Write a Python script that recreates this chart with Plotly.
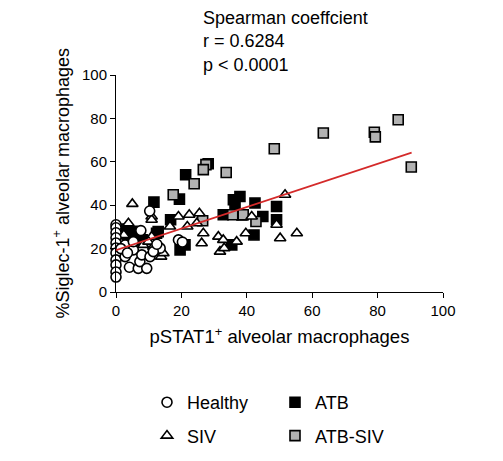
import plotly.graph_objects as go

# ---- data ----
healthy_x = [0, 0, 0, 0, 0, 0, 0, 0, 0, 0, 0, 10.3, 7.6, 2.8, 5.3, 2.8, 4.1, 6.8, 7.3, 9.4,
             7.9, 10.4, 13.5, 11.4, 19.1, 5.3, 1.5, 3.5, 12.5, 20.3]
healthy_y = [31, 29.6, 27.3, 25, 22.6, 20.3, 18, 14.8, 12.5, 9.2, 6.9, 37.3, 28.3, 21.7, 19.4, 16.3, 11.4, 10.9, 14, 10.9,
             17.1, 16.3, 20.2, 18.6, 24, 23.2, 20, 18, 22, 23]

atb_x = [21.3, 28.2, 19.4, 11.6, 16.7, 12.9, 19.6, 21.1, 32.8, 35.9, 37.9, 36.4, 42.5, 44.9, 42.2,
         35.4, 49.1, 49.1, 1, 2, 3, 4, 5, 6, 7, 8, 3, 5, 12.4, 38.5]
atb_y = [54, 59.1, 42.8, 41.4, 33.3, 27.8, 19.4, 21.7, 35.6, 42.5, 44, 40.2, 41, 34.8, 26.3,
         21.7, 39.4, 33.3, 28, 27, 25, 26, 28, 26, 25, 24, 29, 24, 27.1, 35.5]

siv_x = [5, 10.9, 10.9, 19.1, 22.4, 25.5, 16.5, 21.8, 24.7, 26.7, 26.2, 31.3, 32.8, 31.8, 33.1, 36.9,
         39.7, 41.5, 49.1, 50.2, 13.8, 10.9, 8.3, 11.4, 3.8, 2.4, 1.7, 51.7, 55.3, 9.9, 11.9, 14.5]
siv_y = [40.6, 34.8, 33.3, 34.8, 35.6, 36.3, 30.2, 30.2, 31.7, 27.1, 22.5, 25.5, 24, 18.6, 20.2, 23.2,
         27.1, 34.8, 31, 24.8, 16.3, 25.5, 21.7, 20.9, 31.7, 26.3, 22.6, 44.8, 27.1, 23.2, 19.4, 17.9]

atbsiv_x = [86.3, 63.4, 79, 79.3, 90.3, 48.4, 42.8, 27.5, 26.7, 33.7, 23.9, 17.5, 26.5, 35.7, 38.9]
atbsiv_y = [79.4, 73.3, 73.6, 71.5, 57.6, 66, 32.5, 58.7, 56.4, 55.1, 49.9, 44.8, 32.8, 35.6, 35.6]

fit_slope = 0.497
fit_intercept = 19.3
fit_x = [0, 90.4]
fit_y = [fit_intercept + fit_slope * v for v in fit_x]

x_ticks = [0, 20, 40, 60, 80, 100]
y_ticks = [0, 20, 40, 60, 80, 100]

FONT = "Liberation Sans, Arial, sans-serif"
MS = 10
LW = 1.6

fig = go.Figure()

fig.add_trace(go.Scatter(x=atb_x, y=atb_y, mode="markers", name="ATB",
                         marker=dict(symbol="square", size=MS, color="black",
                                     line=dict(color="black", width=LW)),
                         cliponaxis=False, legend="legend2", legendrank=1, legendgroup="a"))
fig.add_trace(go.Scatter(x=atbsiv_x, y=atbsiv_y, mode="markers", name="ATB-SIV",
                         marker=dict(symbol="square", size=MS, color="#b2b2b2",
                                     line=dict(color="black", width=LW)),
                         cliponaxis=False, legend="legend2", legendrank=2, legendgroup="b"))
fig.add_trace(go.Scatter(x=siv_x, y=siv_y, mode="markers", name="SIV",
                         marker=dict(symbol="triangle-up", size=MS, color="white",
                                     line=dict(color="black", width=LW)),
                         cliponaxis=False, legend="legend", legendrank=2, legendgroup="c"))
fig.add_trace(go.Scatter(x=healthy_x, y=healthy_y, mode="markers", name="Healthy",
                         marker=dict(symbol="circle", size=MS, color="white",
                                     line=dict(color="black", width=LW)),
                         cliponaxis=False, legend="legend", legendrank=1, legendgroup="d"))
fig.add_trace(go.Scatter(x=fit_x, y=fit_y, mode="lines", showlegend=False,
                         line=dict(color="#d42a2a", width=1.6), cliponaxis=False))

axis_common = dict(range=[0, 100], showgrid=False, zeroline=False, showline=True,
                   linecolor="black", linewidth=1, ticks="outside", ticklen=5,
                   tickcolor="black", tickwidth=1, tickfont=dict(family=FONT, size=15, color="black"))

fig.update_xaxes(**axis_common, tickvals=x_ticks,
                 title=dict(text="pSTAT1<sup>+</sup> alveolar macrophages",
                            font=dict(family=FONT, size=18.5, color="black"), standoff=12))
fig.update_yaxes(**axis_common, tickvals=y_ticks)

leg_common = dict(font=dict(family=FONT, size=18, color="black"), bgcolor="rgba(0,0,0,0)",
                  traceorder="grouped", tracegroupgap=7, orientation="v",
                  xref="container", yref="container",
                  xanchor="left", yanchor="top", itemsizing="trace")

# the page body adds an 8px offset; figure coordinates below compensate
fig.update_layout(
    width=503, height=461,
    margin=dict(l=108, r=68, t=67, b=177, autoexpand=False),
    plot_bgcolor="white", paper_bgcolor="white",
    font=dict(family=FONT, color="black"),
    legend=dict(**leg_common, x=139 / 503, y=1 - 376 / 461),
    legend2=dict(**leg_common, x=267 / 503, y=1 - 376 / 461),
    annotations=[
        dict(text="Spearman coeffcient<br>r = 0.6284<br>p < 0.0001",
             xref="paper", yref="paper", x=85 / 327, y=286 / 217,
             xanchor="left", yanchor="top", align="left", showarrow=False,
             font=dict(family=FONT, size=18, color="black")),
        dict(text="%Siglec-1<sup>+</sup> alveolar macrophages",
             xref="paper", yref="paper", x=(62 - 116) / 327, y=0.5, textangle=-90,
             xanchor="center", yanchor="middle", showarrow=False,
             font=dict(family=FONT, size=18, color="black")),
    ],
)

fig.write_html("out.html")
